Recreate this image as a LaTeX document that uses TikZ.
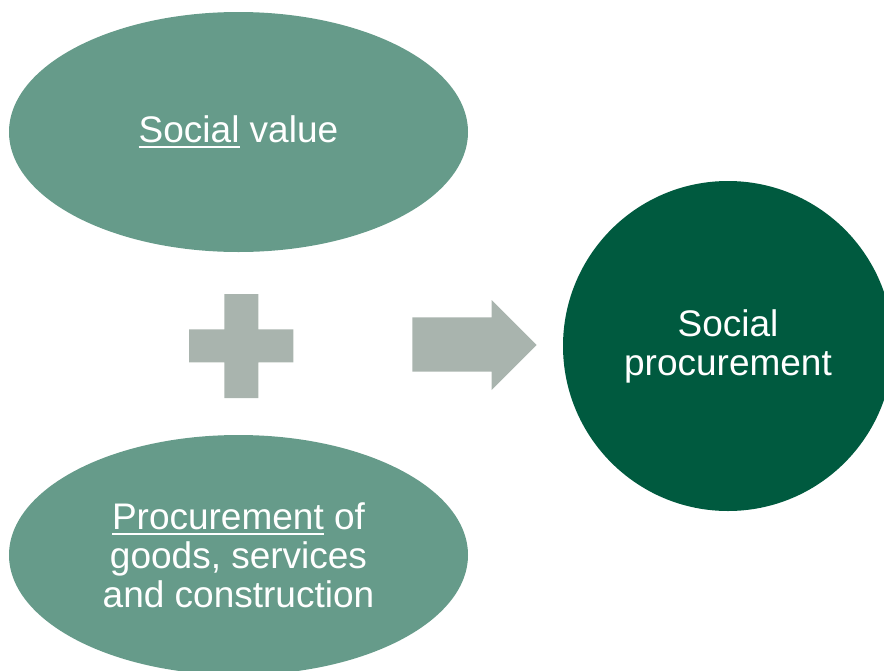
\documentclass[tikz,border=0pt]{standalone}
\usepackage{fontspec}
\setmainfont{Liberation Sans}
\usetikzlibrary{shapes.geometric}
\definecolor{sage}{HTML}{669B8A}
\definecolor{deepgreen}{HTML}{005A3F}
\definecolor{greyish}{HTML}{A9B4AE}
\newcommand\myul[1]{\leavevmode\setbox0\hbox{#1}\rlap{\rule[-6pt]{\wd0}{2pt}}\box0\relax}
\tikzset{
  bubble/.style={ellipse, fill=sage, draw=none, minimum width=459pt, minimum height=240pt, inner sep=0pt,
    text=white, align=center, font=\fontsize{37}{39}\selectfont},
  result/.style={circle, fill=deepgreen, draw=none, minimum size=330pt, inner sep=0pt,
    text=white, align=center, font=\fontsize{37}{39}\selectfont},
  symbolshape/.style={fill=greyish, draw=none}
}
\begin{document}
\begin{tikzpicture}[x=1pt,y=-1pt]
\useasboundingbox (0,0) rectangle (884,670);
\clip (0,0) rectangle (884,670);
\node[bubble] (sv) at (238.5,132) {\myul{Social} value};
\node[bubble] (pr) at (238.5,555) {\myul{Procurement} of\\goods, services\\and construction};
\node[result] (sp) at (728,346) {Social\\procurement};
\fill[symbolshape] (224.3,294) -- (258.3,294) -- (258.3,329.3) -- (293.3,329.3) -- (293.3,362.3)
  -- (258.3,362.3) -- (258.3,398) -- (224.3,398) -- (224.3,362.3) -- (189,362.3) -- (189,329.3)
  -- (224.3,329.3) -- cycle;
\fill[symbolshape] (412.3,317.3) -- (491.7,317.3) -- (491.7,300) -- (536.7,345) -- (491.7,390)
  -- (491.7,371.7) -- (412.3,371.7) -- cycle;
\end{tikzpicture}
\end{document}
